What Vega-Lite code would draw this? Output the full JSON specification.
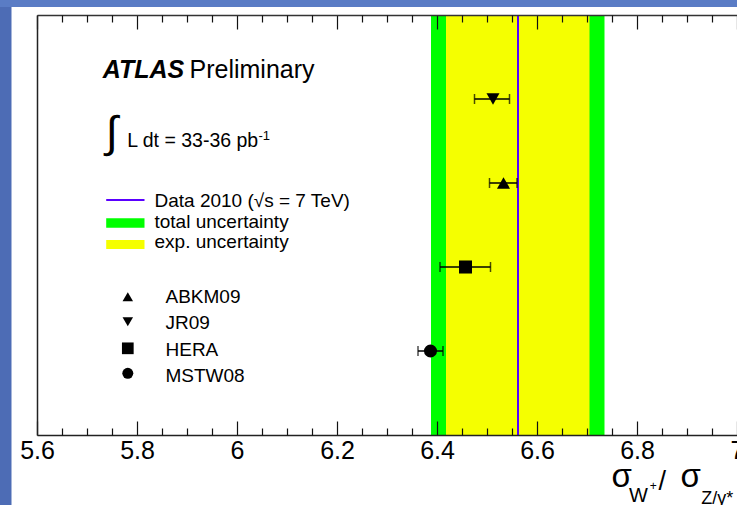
{
  "$schema": "https://vega.github.io/schema/vega-lite/v6.json",
  "width": 700,
  "height": 420,
  "autosize": {"type": "none"},
  "padding": {"left": 37, "top": 15, "right": 0, "bottom": 70},
  "background": "#4d6cb5",
  "config": {"view": {"stroke": null}, "text": {"font": "Liberation Sans", "color": "#000"}},
  "datasets": {
    "models": [
      {"model": "JR09", "value": 6.512, "lo": 6.475, "hi": 6.545, "rank": 4},
      {"model": "ABKM09", "value": 6.533, "lo": 6.505, "hi": 6.56, "rank": 3},
      {"model": "HERA", "value": 6.457, "lo": 6.406, "hi": 6.507, "rank": 2},
      {"model": "MSTW08", "value": 6.387, "lo": 6.362, "hi": 6.412, "rank": 1}
    ],
    "measurement": [{"value": 6.562, "exp_lo": 6.418, "exp_hi": 6.705, "tot_lo": 6.388, "tot_hi": 6.735}],
    "one": [{}]
  },
  "data": {"name": "one"},
  "resolve": {"axis": {"x": "independent", "y": "independent"}},
  "layer": [
    {
      "mark": {"type": "rect", "color": "#5a7cc5"},
      "encoding": {
        "x": {"datum": 5.5, "type": "quantitative", "axis": null, "scale": {"domain": [5.6, 7], "nice": false, "zero": false}},
        "x2": {"datum": 7.2},
        "y": {"datum": 5.3, "type": "quantitative", "axis": null, "scale": {"domain": [0, 5], "nice": false, "zero": false}},
        "y2": {"datum": 5.095}
      }
    },
    {
      "mark": {"type": "rect", "color": "#ffffff"},
      "encoding": {
        "x": {"datum": 5.549, "type": "quantitative", "axis": null},
        "x2": {"datum": 7.2},
        "y": {"datum": 5.095, "type": "quantitative", "axis": null},
        "y2": {"datum": -1.2}
      }
    },
    {
      "data": {"name": "measurement"},
      "mark": {"type": "rect", "color": "#00ff00"},
      "encoding": {
        "x": {"field": "tot_lo", "type": "quantitative", "scale": {"domain": [5.6, 7], "nice": false, "zero": false},
          "axis": {"orient": "bottom", "values": [5.6, 5.8, 6, 6.2, 6.4, 6.6, 6.8, 7], "format": "~g", "tickSize": -14, "tickColor": "#111", "tickWidth": 1.2,
            "domain": true, "domainColor": "#222", "domainWidth": 1.5, "labelFont": "Liberation Sans", "labelFontSize": 25, "labelColor": "#000",
            "labelPadding": 17, "labelFlush": false, "labelOverlap": false, "labelBound": false, "grid": false, "title": null, "zindex": 1}},
        "x2": {"field": "tot_hi"},
        "y": {"datum": 5, "type": "quantitative", "axis": null, "scale": {"domain": [0, 5], "nice": false, "zero": false}},
        "y2": {"datum": 0}
      }
    },
    {
      "data": {"name": "measurement"},
      "mark": {"type": "rect", "color": "#f5ff00"},
      "encoding": {
        "x": {"field": "exp_lo", "type": "quantitative",
          "axis": {"orient": "bottom", "values": [5.65, 5.7, 5.75, 5.85, 5.9, 5.95, 6.05, 6.1, 6.15, 6.25, 6.3, 6.35, 6.45, 6.5, 6.55, 6.65, 6.7, 6.75, 6.85, 6.9, 6.95],
            "tickSize": -7, "tickColor": "#111", "tickWidth": 1.2, "domain": false, "labels": false, "grid": false, "title": null, "zindex": 1}},
        "x2": {"field": "exp_hi"},
        "y": {"datum": 5, "type": "quantitative", "axis": null},
        "y2": {"datum": 0}
      }
    },
    {
      "data": {"name": "measurement"},
      "mark": {"type": "rule", "color": "#5a00ff", "strokeWidth": 2},
      "encoding": {
        "x": {"field": "value", "type": "quantitative",
          "axis": {"orient": "top", "values": [5.6, 5.8, 6, 6.2, 6.4, 6.6, 6.8, 7], "tickSize": -14, "tickColor": "#111", "tickWidth": 1.2,
            "domain": true, "domainColor": "#333", "domainWidth": 1.5, "labels": false, "grid": false, "title": null, "zindex": 1}},
        "y": {"datum": 5, "type": "quantitative", "axis": null},
        "y2": {"datum": 0}
      }
    },
    {
      "data": {"name": "models"},
      "mark": {"type": "rule", "color": "#000", "strokeWidth": 1.5},
      "encoding": {
        "x": {"field": "lo", "type": "quantitative",
          "axis": {"orient": "top", "values": [5.65, 5.7, 5.75, 5.85, 5.9, 5.95, 6.05, 6.1, 6.15, 6.25, 6.3, 6.35, 6.45, 6.5, 6.55, 6.65, 6.7, 6.75, 6.85, 6.9, 6.95],
            "tickSize": -7, "tickColor": "#111", "tickWidth": 1.2, "domain": false, "labels": false, "grid": false, "title": null, "zindex": 1}},
        "x2": {"field": "hi"},
        "y": {"field": "rank", "type": "quantitative", "axis": null}
      }
    },
    {
      "data": {"name": "models"},
      "mark": {"type": "tick", "orient": "vertical", "color": "#000", "size": 10, "thickness": 1.5},
      "encoding": {
        "x": {"field": "lo", "type": "quantitative", "axis": null},
        "y": {"field": "rank", "type": "quantitative", "axis": null}
      }
    },
    {
      "data": {"name": "models"},
      "mark": {"type": "tick", "orient": "vertical", "color": "#000", "size": 10, "thickness": 1.5},
      "encoding": {
        "x": {"field": "hi", "type": "quantitative", "axis": null},
        "y": {"field": "rank", "type": "quantitative", "axis": null}
      }
    },
    {
      "data": {"name": "models"},
      "mark": {"type": "point", "filled": true, "opacity": 1, "color": "#000", "size": 170},
      "encoding": {
        "x": {"field": "value", "type": "quantitative", "axis": null},
        "y": {"field": "rank", "type": "quantitative",
          "axis": {"orient": "left", "ticks": false, "labels": false, "grid": false, "title": null, "domain": true, "domainColor": "#222", "domainWidth": 1.5, "zindex": 1}},
        "shape": {"field": "model", "type": "nominal", "legend": null,
          "scale": {"domain": ["ABKM09", "JR09", "HERA", "MSTW08"], "range": ["triangle-up", "triangle-down", "square", "circle"]}}
      }
    },
    {
      "mark": {"type": "text", "text": "ATLAS", "fontSize": 25, "fontWeight": "bold", "fontStyle": "italic", "align": "left", "baseline": "alphabetic"},
      "encoding": {"x": {"datum": 5.7316, "type": "quantitative", "axis": null}, "y": {"datum": 4.254, "type": "quantitative", "axis": null}}
    },
    {
      "mark": {"type": "text", "text": "Preliminary", "fontSize": 25, "align": "left", "baseline": "alphabetic"},
      "encoding": {"x": {"datum": 5.905, "type": "quantitative", "axis": null}, "y": {"datum": 4.254, "type": "quantitative", "axis": null}}
    },
    {
      "mark": {"type": "text", "text": "∫", "fontSize": 44, "align": "center", "baseline": "middle"},
      "encoding": {"x": {"datum": 5.7496, "type": "quantitative", "axis": null}, "y": {"datum": 3.58, "type": "quantitative", "axis": null}}
    },
    {
      "mark": {"type": "text", "text": "L dt = 33-36 pb", "fontSize": 19.5, "align": "left", "baseline": "alphabetic"},
      "encoding": {"x": {"datum": 5.7804, "type": "quantitative", "axis": null}, "y": {"datum": 3.432, "type": "quantitative", "axis": null}}
    },
    {
      "mark": {"type": "text", "text": "-1", "fontSize": 13, "align": "left", "baseline": "alphabetic"},
      "encoding": {"x": {"datum": 6.043, "type": "quantitative", "axis": null}, "y": {"datum": 3.512, "type": "quantitative", "axis": null}}
    },
    {
      "mark": {"type": "rule", "color": "#5a00ff", "strokeWidth": 2},
      "encoding": {"x": {"datum": 5.7384, "type": "quantitative", "axis": null}, "x2": {"datum": 5.815}, "y": {"datum": 2.798, "type": "quantitative", "axis": null}}
    },
    {
      "mark": {"type": "rect", "color": "#00ff00"},
      "encoding": {"x": {"datum": 5.7384, "type": "quantitative", "axis": null}, "x2": {"datum": 5.815}, "y": {"datum": 2.58, "type": "quantitative", "axis": null}, "y2": {"datum": 2.468}}
    },
    {
      "mark": {"type": "rect", "color": "#f5ff00"},
      "encoding": {"x": {"datum": 5.7384, "type": "quantitative", "axis": null}, "x2": {"datum": 5.815}, "y": {"datum": 2.321, "type": "quantitative", "axis": null}, "y2": {"datum": 2.214}}
    },
    {
      "mark": {"type": "text", "text": "Data 2010 (√s = 7 TeV)", "fontSize": 19, "align": "left", "baseline": "alphabetic"},
      "encoding": {"x": {"datum": 5.835, "type": "quantitative", "axis": null}, "y": {"datum": 2.718, "type": "quantitative", "axis": null}}
    },
    {
      "mark": {"type": "text", "text": "total uncertainty", "fontSize": 19, "align": "left", "baseline": "alphabetic"},
      "encoding": {"x": {"datum": 5.835, "type": "quantitative", "axis": null}, "y": {"datum": 2.461, "type": "quantitative", "axis": null}}
    },
    {
      "mark": {"type": "text", "text": "exp. uncertainty", "fontSize": 19, "align": "left", "baseline": "alphabetic"},
      "encoding": {"x": {"datum": 5.835, "type": "quantitative", "axis": null}, "y": {"datum": 2.223, "type": "quantitative", "axis": null}}
    },
    {
      "mark": {"type": "point", "shape": "triangle-up", "filled": true, "opacity": 1, "color": "#000", "size": 110},
      "encoding": {"x": {"datum": 5.7816, "type": "quantitative", "axis": null}, "y": {"datum": 1.646, "type": "quantitative", "axis": null}}
    },
    {
      "mark": {"type": "point", "shape": "triangle-down", "filled": true, "opacity": 1, "color": "#000", "size": 110},
      "encoding": {"x": {"datum": 5.7816, "type": "quantitative", "axis": null}, "y": {"datum": 1.349, "type": "quantitative", "axis": null}}
    },
    {
      "mark": {"type": "point", "shape": "square", "filled": true, "opacity": 1, "color": "#000", "size": 137},
      "encoding": {"x": {"datum": 5.7816, "type": "quantitative", "axis": null}, "y": {"datum": 1.032, "type": "quantitative", "axis": null}}
    },
    {
      "mark": {"type": "point", "shape": "circle", "filled": true, "opacity": 1, "color": "#000", "size": 121},
      "encoding": {"x": {"datum": 5.7816, "type": "quantitative", "axis": null}, "y": {"datum": 0.734, "type": "quantitative", "axis": null}}
    },
    {
      "mark": {"type": "text", "text": "ABKM09", "fontSize": 19, "align": "left", "baseline": "alphabetic"},
      "encoding": {"x": {"datum": 5.857, "type": "quantitative", "axis": null}, "y": {"datum": 1.568, "type": "quantitative", "axis": null}}
    },
    {
      "mark": {"type": "text", "text": "JR09", "fontSize": 19, "align": "left", "baseline": "alphabetic"},
      "encoding": {"x": {"datum": 5.857, "type": "quantitative", "axis": null}, "y": {"datum": 1.258, "type": "quantitative", "axis": null}}
    },
    {
      "mark": {"type": "text", "text": "HERA", "fontSize": 19, "align": "left", "baseline": "alphabetic"},
      "encoding": {"x": {"datum": 5.857, "type": "quantitative", "axis": null}, "y": {"datum": 0.94, "type": "quantitative", "axis": null}}
    },
    {
      "mark": {"type": "text", "text": "MSTW08", "fontSize": 19, "align": "left", "baseline": "alphabetic"},
      "encoding": {"x": {"datum": 5.857, "type": "quantitative", "axis": null}, "y": {"datum": 0.635, "type": "quantitative", "axis": null}}
    },
    {
      "mark": {"type": "text", "text": "σ", "fontSize": 33, "align": "left", "baseline": "alphabetic"},
      "encoding": {"x": {"datum": 6.749, "type": "quantitative", "axis": null}, "y": {"datum": -0.619, "type": "quantitative", "axis": null}}
    },
    {
      "mark": {"type": "text", "text": "W", "fontSize": 20, "align": "left", "baseline": "alphabetic"},
      "encoding": {"x": {"datum": 6.784, "type": "quantitative", "axis": null}, "y": {"datum": -0.798, "type": "quantitative", "axis": null}}
    },
    {
      "mark": {"type": "text", "text": "+", "fontSize": 12, "align": "left", "baseline": "alphabetic"},
      "encoding": {"x": {"datum": 6.8255, "type": "quantitative", "axis": null}, "y": {"datum": -0.66, "type": "quantitative", "axis": null}}
    },
    {
      "mark": {"type": "text", "text": "/", "fontSize": 27, "align": "left", "baseline": "alphabetic"},
      "encoding": {"x": {"datum": 6.843, "type": "quantitative", "axis": null}, "y": {"datum": -0.66, "type": "quantitative", "axis": null}}
    },
    {
      "mark": {"type": "text", "text": "σ", "fontSize": 33, "align": "left", "baseline": "alphabetic"},
      "encoding": {"x": {"datum": 6.887, "type": "quantitative", "axis": null}, "y": {"datum": -0.619, "type": "quantitative", "axis": null}}
    },
    {
      "mark": {"type": "text", "text": "Z/γ*", "fontSize": 18, "align": "left", "baseline": "alphabetic"},
      "encoding": {"x": {"datum": 6.9284, "type": "quantitative", "axis": null}, "y": {"datum": -0.821, "type": "quantitative", "axis": null}}
    }
  ]
}
